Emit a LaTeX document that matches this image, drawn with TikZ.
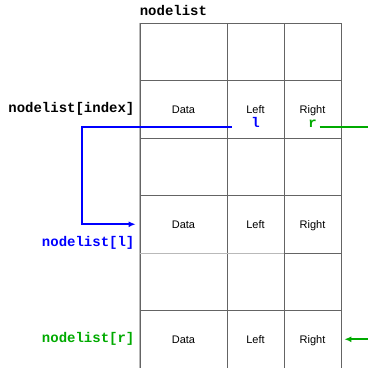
\documentclass[tikz,border=0pt]{standalone}
\usepackage{fontspec}
\setmainfont{Liberation Sans}
\setmonofont{Liberation Mono}
\usetikzlibrary{positioning, arrows.meta}

\definecolor{azul}{RGB}{0,0,255}
\definecolor{verde}{RGB}{0,170,0}
\definecolor{rejilla}{RGB}{100,100,100}
\definecolor{claro}{RGB}{185,185,185}

\begin{document}
\begin{tikzpicture}[x=1pt, y=-1pt,
	celda/.style={draw=rejilla, line width=0.8pt, minimum height=57.5pt, inner sep=0pt},
	texto/.style={font=\fontsize{11}{13}\selectfont, anchor=base, inner sep=0pt},
	codigo/.style={font=\ttfamily\bfseries\fontsize{14}{16}\selectfont, inner sep=0pt},
	flecha/.style={line width=2pt, -{Latex[length=7pt, width=6pt]}}]
				\useasboundingbox (0,0) rectangle (368,368);

				% Dibujar las celdas
				\foreach \f in {1,...,6} {
					\node[celda, minimum width=87pt] (c\f1) at (183.5, {23+57.5*(\f-0.5)}) {};
					\node[celda, minimum width=57pt] (c\f2) at (255.5, {23+57.5*(\f-0.5)}) {};
					\node[celda, minimum width=57pt] (c\f3) at (312.5, {23+57.5*(\f-0.5)}) {};
				}
				\draw[claro, line width=0.8pt] (c11.north west) -- (c61.south west);
				\draw[claro, line width=0.8pt] (c41.south west) -- (c43.south east);
				\draw[rejilla, line width=0.8pt] (c43.south west) -- (c43.south east);

				% Dibujar los campos
				\foreach \f in {2,4,6} {
					\node[texto] at ([yshift=-4.5pt]c\f1.center) {Data};
					\node[texto] at ([yshift=-4.5pt]c\f2.center) {Left};
					\node[texto] at ([yshift=-4.5pt]c\f3.center) {Right};
				}

				% Dibujar etiquetas
				\node[codigo, anchor=base west] (titulo) at ([yshift=7pt]c11.north west) {nodelist};
				\node[codigo, left=5pt of c21] (indice) {nodelist[index]};
				\node[codigo, text=azul, anchor=east] (listaL) at ([xshift=-5pt, yshift=-19pt]c41.west) {nodelist[l]};
				\node[codigo, text=verde, left=5pt of c61] (listaR) {nodelist[r]};
				\node[codigo, text=azul, anchor=base] (etiqL) at ([yshift=-18pt]c22.center) {l};
				\node[codigo, text=verde, anchor=base] (etiqR) at ([yshift=-18pt]c23.center) {r};

				% Dibujar las flechas
				\path (c22.west |- etiqL.base) ++(5,0) coordinate (inicioL);
				\path (c23.west |- etiqR.base) ++(36,0) coordinate (inicioR);
				\draw[azul, flecha] (inicioL) -- ++(-150,0) |- ([xshift=-4pt]c41.west);
				\draw[verde, line width=2pt] (inicioR) -- ++(60,0);
				\draw[verde, flecha] ([xshift=30pt]c63.east) -- ([xshift=3pt]c63.east);

			\end{tikzpicture}
\end{document}
